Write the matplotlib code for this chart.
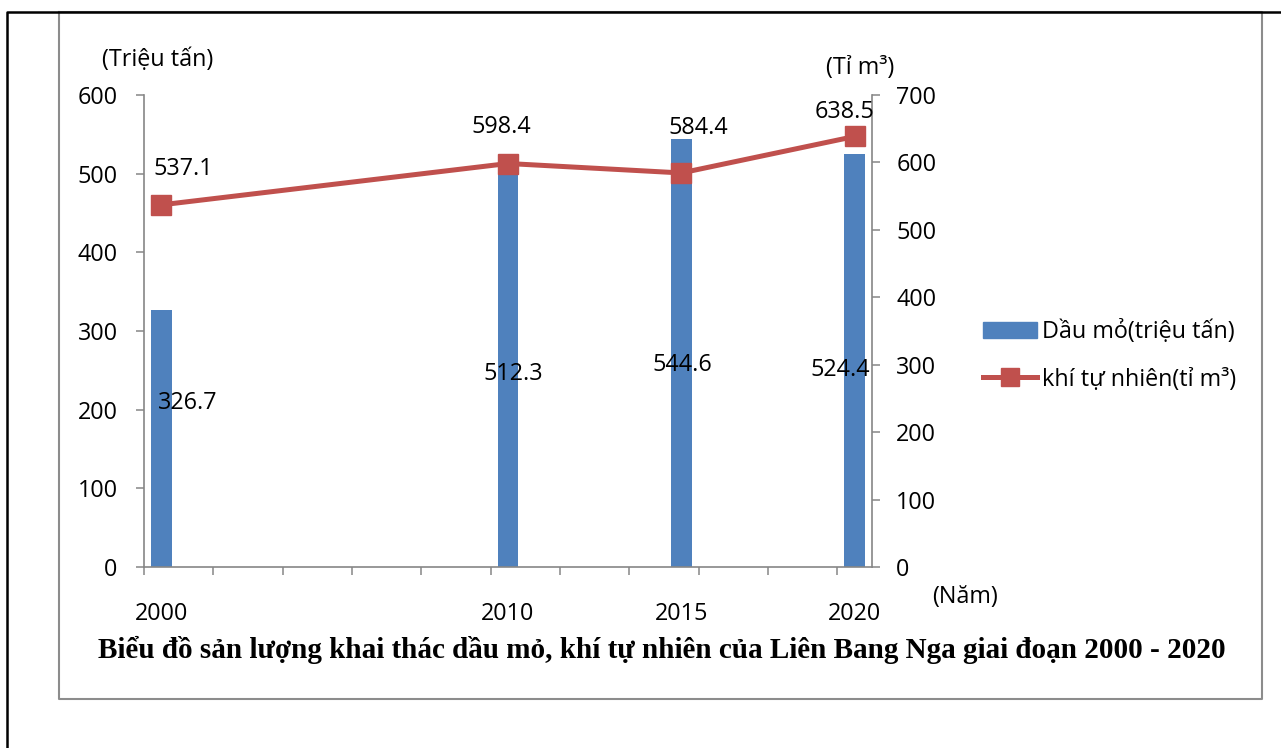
import numpy as np
import matplotlib
matplotlib.use('Agg')
import matplotlib.pyplot as plt
from matplotlib.lines import Line2D
from matplotlib.patches import Patch

# Data
years = [2000, 2010, 2015, 2020]
year_labels = ['2000', '2010', '2015', '2020']
oil = [326.7, 512.3, 544.6, 524.4]      # trieu tan
gas = [537.1, 598.4, 584.4, 638.5]      # ti m3

plt.rcParams['font.family'] = ['Open Sans', 'DejaVu Sans']
fs = 16.8
W, H = 1281, 748
GRAY = '#868686'
BLUE = '#4F81BD'
RED = '#C0504D'


def fx(px):
    return px / W


def fy(py):
    return 1 - py / H


fig = plt.figure(figsize=(W / 100, H / 100), dpi=100)
ax = fig.add_axes([fx(144), fy(567), fx(872 - 144), (567 - 95) / H])
ax2 = ax.twinx()

# bars - oil
ax.bar(years, oil, width=0.6, color=BLUE, zorder=2)
ax.set_xlim(1999.5, 2020.5)
ax.set_ylim(0, 600)
ax.set_yticks(np.arange(0, 601, 100))

# line - gas
ax2.plot(years, gas, color=RED, lw=3.6, marker='s', markersize=14, zorder=3)
ax2.set_ylim(0, 700)
ax2.set_yticks(np.arange(0, 701, 100))

# x ticks: marks every 2 years between categories, labels at the years
ax.set_xticks(np.arange(1999.5, 2020, 2))
ax.set_xticklabels([])
ax.set_xticks(years, minor=True)
ax.set_xticklabels(year_labels, minor=True, fontsize=fs)
ax.tick_params(axis='x', which='major', direction='out', length=5.5, width=1.1, color=GRAY)
ax.tick_params(axis='x', which='minor', length=0, pad=25)
ax.tick_params(axis='y', direction='out', length=5.5, width=1.1, color=GRAY, pad=13.5, labelsize=fs)
ax2.tick_params(axis='y', direction='out', length=5.5, width=1.1, color=GRAY, pad=12, labelsize=fs)

for s in ['top', 'right']:
    ax.spines[s].set_visible(False)
for s in ['top', 'left', 'bottom']:
    ax2.spines[s].set_visible(False)
ax.spines['left'].set_color(GRAY)
ax.spines['bottom'].set_color(GRAY)
ax2.spines['right'].set_color(GRAY)
for sp in [ax.spines['left'], ax.spines['bottom'], ax2.spines['right']]:
    sp.set_linewidth(1.2)

# data labels
oil_off = [(26, 35), (5, -9), (1, -12), (-14, -9)]
for x, v, o in zip(years, oil, oil_off):
    ax.annotate(f'{v}', (x, v / 2), xytext=o, textcoords='offset pixels',
                ha='center', va='center', fontsize=fs, zorder=4)
gas_off = [(22, 36), (-7, 37), (17, 45), (-10, 24)]
for x, v, o in zip(years, gas, gas_off):
    ax2.annotate(f'{v}', (x, v), xytext=o, textcoords='offset pixels',
                 ha='center', va='center', fontsize=fs, zorder=4)

# axis unit labels
fig.text(fx(158), fy(60), '(Triệu tấn)', ha='center', va='center', fontsize=fs)
fig.text(fx(860), fy(68), '(Tỉ m³)', ha='center', va='center', fontsize=fs)
fig.text(fx(965), fy(597), '(Năm)', ha='center', va='center', fontsize=fs)

# title
fig.text(fx(98), fy(650), 'Biểu đồ sản lượng khai thác dầu mỏ, khí tự nhiên của Liên Bang Nga giai đoạn 2000 - 2020',
         ha='left', va='center', fontsize=21, fontweight='bold', family='Liberation Serif')

# legend
handles = [Patch(color=BLUE),
           Line2D([], [], color=RED, lw=3.6, marker='s', markersize=13)]
fig.legend(handles, ['Dầu mỏ(triệu tấn)', 'khí tự nhiên(tỉ m³)'],
           loc='center left', bbox_to_anchor=(fx(962), fy(356)), frameon=False,
           fontsize=fs, handlelength=2.3, handletextpad=0.25, labelspacing=1.0)

# frames
fig.add_artist(Line2D([fx(59), fx(59), fx(1262), fx(1262), fx(59)],
                      [fy(12), fy(699), fy(699), fy(12), fy(12)],
                      color='#8c8c8c', lw=1.5))
fig.add_artist(Line2D([fx(7), fx(7), fx(1281)], [fy(748), fy(12), fy(12)],
                      color='black', lw=1.8))

fig.savefig('out.png', dpi=100)
